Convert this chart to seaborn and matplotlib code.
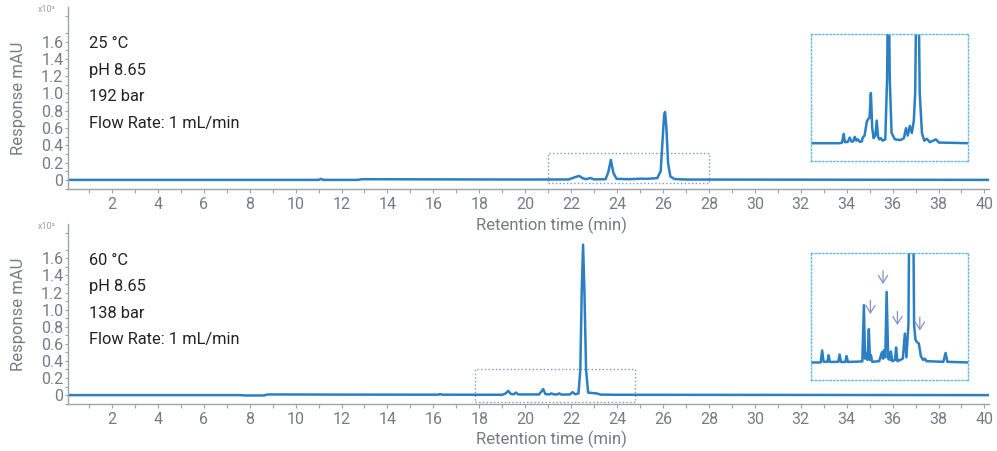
import matplotlib
matplotlib.use("Agg")
import matplotlib.pyplot as plt
from matplotlib.patches import Rectangle
import pandas as pd
import seaborn as sns

# --- data (time in min, response in mAU x10^3) ---
top_time = [0.1, 11.0, 11.1, 11.2, 12.7, 12.9, 16.0, 20.0, 21.9, 22.15, 22.35, 22.5,
            22.65, 22.84, 23.0, 23.5, 23.62, 23.73, 23.84, 23.98, 24.5, 25.1, 25.3,
            25.5, 25.75, 25.9, 25.98, 26.05, 26.09, 26.15, 26.22, 26.32, 26.5, 27.0, 40.2]
top_resp = [0.0, 0.0, 0.012, 0.0, 0.0, 0.008, 0.006, 0.004, 0.005, 0.03, 0.046, 0.02,
            0.008, 0.022, 0.006, 0.008, 0.09, 0.232, 0.08, 0.012, 0.008, 0.014, 0.012,
            0.016, 0.02, 0.1, 0.45, 0.75, 0.785, 0.6, 0.2, 0.04, 0.01, 0.004, 0.0]

bot_time = [0.1, 7.6, 7.8, 8.6, 8.8, 12.0, 16.2, 16.3, 16.4, 19.0, 19.15, 19.26, 19.38,
            19.5, 19.59, 19.7, 20.6, 20.7, 20.78, 20.88, 21.05, 21.14, 21.25, 21.4, 21.48,
            21.58, 21.95, 22.06, 22.18, 22.32, 22.4, 22.46, 22.52, 22.58, 22.65, 22.74,
            22.9, 23.1, 23.3, 24.0, 40.2]
bot_resp = [0.0, 0.0, -0.004, -0.004, 0.008, 0.006, 0.005, 0.012, 0.005, 0.004, 0.02, 0.05,
            0.012, 0.01, 0.03, 0.008, 0.008, 0.04, 0.07, 0.012, 0.008, 0.02, 0.008, 0.008,
            0.02, 0.006, 0.008, 0.035, 0.01, 0.02, 0.3, 1.2, 1.76, 1.2, 0.3, 0.03,
            0.025, 0.02, 0.006, 0.004, 0.0]

# zoomed insets (relative units)
inset1_time = [21.0, 22.3, 22.4, 22.47, 22.53, 22.65, 22.74, 22.82, 22.9, 22.96, 23.04, 23.1,
               23.2, 23.28, 23.32, 23.4, 23.5, 23.56, 23.62, 23.68, 23.74, 23.8, 23.88, 23.94,
               24.0, 24.06, 24.12, 24.2, 24.32, 24.4, 24.46, 24.52, 24.6, 24.75, 25.0, 25.15,
               25.24, 25.32, 25.41, 25.5, 25.59, 25.65, 25.75, 25.85, 25.95, 26.05, 26.17,
               26.3, 26.57, 26.7, 28.0]
inset1_resp = [0.0, 0.0, 0.005, 0.073, 0.008, 0.01, 0.044, 0.012, 0.015, 0.05, 0.02, 0.03,
               0.01, 0.015, 0.044, 0.06, 0.17, 0.19, 0.2, 0.394, 0.12, 0.04, 0.06, 0.178,
               0.05, 0.03, 0.04, 0.02, 0.03, 0.5, 1.5, 0.5, 0.08, 0.03, 0.025, 0.04,
               0.118, 0.06, 0.136, 0.08, 0.18, 0.4, 2.0, 0.4, 0.08, 0.02, 0.035,
               0.008, 0.03, 0.005, 0.0]

inset2_time = [17.8, 18.25, 18.315, 18.38, 18.55, 18.6, 18.66, 19.03, 19.09, 19.15, 19.35,
               19.4, 19.46, 20.1, 20.17, 20.22, 20.27, 20.33, 20.39, 20.44, 20.48, 20.54,
               20.85, 20.97, 21.02, 21.06, 21.12, 21.18, 21.25, 21.32, 21.37, 21.43, 21.55,
               21.6, 21.66, 21.9, 21.99, 22.06, 22.15, 22.21, 22.28, 22.34, 22.4, 22.46,
               22.53, 22.61, 22.7, 22.8, 22.88, 22.95, 23.7, 23.8, 23.88, 24.8]
inset2_resp = [0.0, 0.0, 0.094, 0.005, 0.005, 0.057, 0.004, 0.005, 0.063, 0.004, 0.004,
               0.05, 0.004, 0.008, 0.452, 0.03, 0.07, 0.02, 0.263, 0.02, 0.06, 0.005,
               0.01, 0.08, 0.03, 0.095, 0.04, 0.557, 0.03, 0.02, 0.087, 0.01, 0.02,
               0.118, 0.01, 0.03, 0.228, 0.04, 0.3, 1.8, 0.9, 1.8, 0.3, 0.18,
               0.16, 0.15, 0.05, 0.02, 0.03, 0.01, 0.005, 0.075, 0.005, 0.0]

arrow_time = [20.46, 21.02, 21.66, 22.655]
arrow_tip = [0.36, 0.596, 0.273, 0.229]

top_notes = ["25 °C", "pH 8.65", "192 bar", "Flow Rate: 1 mL/min"]
bot_notes = ["60 °C", "pH 8.65", "138 bar", "Flow Rate: 1 mL/min"]
x_ticks = list(range(2, 41, 2))
y_ticks = [0, 0.2, 0.4, 0.6, 0.8, 1.0, 1.2, 1.4, 1.6]
y_ticklabels = ["0", "0.2", "0.4", "0.6", "0.8", "1.0", "1.2", "1.4", "1.6"]

sns.set_theme(style="ticks")
plt.rcParams["font.family"] = ["Roboto", "DejaVu Sans"]

LINE = "#2b7fc3"
GREY = "#767b83"
SPINE = "#9ea3aa"

fig = plt.figure(figsize=(9.97, 4.51), dpi=100)


def draw_panel(ax, t, r, notes, box):
    ax.patch.set_alpha(0)
    df = pd.DataFrame({"t": t, "r": r})
    sns.lineplot(data=df, x="t", y="r", ax=ax, color=LINE, linewidth=1.8,
                 estimator=None, sort=False)
    ax.set_xlim(0.1, 40.2)
    ax.set_ylim(-0.105, 2.0)
    ax.set_xticks(x_ticks)
    ax.set_xticklabels([str(v) for v in x_ticks])
    ax.set_xticks(range(1, 41, 2), minor=True)
    ax.set_yticks(y_ticks)
    ax.set_yticklabels(y_ticklabels)
    ax.set_yticks([v / 10 for v in range(-1, 21) if v % 2], minor=True)
    ax.tick_params(axis="x", which="both", length=3, width=0.8, color=SPINE,
                   labelcolor=GREY, labelsize=11.5, pad=3)
    ax.tick_params(axis="y", which="both", length=2.5, width=0.8, color=SPINE,
                   labelcolor=GREY, labelsize=11.5, pad=1)
    for s in ["top", "right"]:
        ax.spines[s].set_visible(False)
    for s in ["left", "bottom"]:
        ax.spines[s].set_color(SPINE)
        ax.spines[s].set_linewidth(1)
    ax.set_xlabel("Retention time (min)", color=GREY, fontsize=12)
    ax.xaxis.set_label_coords(0.525, -0.15)
    ax.set_ylabel("Response mAU", color=GREY, fontsize=12)
    ax.yaxis.set_label_coords(-0.046, 0.5)
    ax.text(-0.023, 0.985, "x10³", transform=ax.transAxes, ha="center",
            va="center", fontsize=6.5, color="#9a9ea5")
    for i, note in enumerate(notes):
        ax.text(0.0225, 0.775 - i * 0.147, note, transform=ax.transAxes,
                fontsize=11.8, color="#222222", va="baseline")
    x0, x1, y0, y1 = box
    ax.add_patch(Rectangle((x0, y0), x1 - x0, y1 - y0, fill=False,
                           linestyle=":", edgecolor="#7f96cc", linewidth=1))


def draw_inset(rect, t, r, xlim):
    ax = fig.add_axes(rect)
    df = pd.DataFrame({"t": t, "r": r})
    sns.lineplot(data=df, x="t", y="r", ax=ax, color=LINE, linewidth=1.8,
                 estimator=None, sort=False)
    ax.set_xlim(*xlim)
    ax.set_ylim(-0.14, 0.86)
    ax.set_xticks([])
    ax.set_yticks([])
    ax.set_xlabel("")
    ax.set_ylabel("")
    for s in ax.spines.values():
        s.set_visible(True)
        s.set_color("#62b9e8")
        s.set_linestyle(":")
        s.set_linewidth(1)
    ax.patch.set_alpha(0)
    return ax


ax2 = fig.add_axes([0.0685, 0.104, 0.9235, 0.399])
ax1 = fig.add_axes([0.0685, 0.581, 0.9235, 0.4035])
draw_panel(ax1, top_time, top_resp, top_notes, (21.0, 28.0, -0.035, 0.31))
draw_panel(ax2, bot_time, bot_resp, bot_notes, (17.8, 24.8, -0.08, 0.30))

draw_inset([0.813, 0.643, 0.158, 0.282], inset1_time, inset1_resp, (21.0, 28.0))
in2 = draw_inset([0.813, 0.157, 0.158, 0.281], inset2_time, inset2_resp, (17.8, 24.8))
for xa, ya in zip(arrow_time, arrow_tip):
    in2.annotate("", xy=(xa, ya), xytext=(xa, ya + 0.15),
                 arrowprops=dict(arrowstyle="->,head_length=0.45,head_width=0.28",
                                 color="#8390cb", lw=0.9))

fig.savefig("out.png", dpi=100)
